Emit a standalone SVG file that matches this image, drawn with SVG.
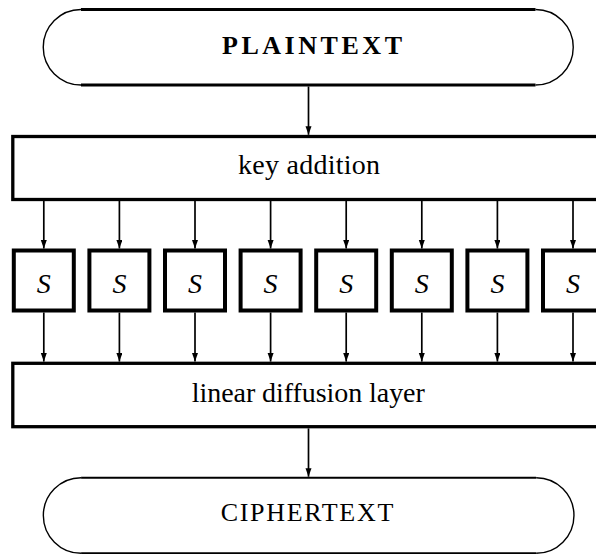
<svg xmlns="http://www.w3.org/2000/svg" width="596" height="554" viewBox="0 0 596 554">
<style>
  .bg{fill:#fff}
  .thick{fill:none;stroke:#000;stroke-width:3}
  .arc{fill:none;stroke:#000;stroke-width:1.4}
  .box{fill:#fff;stroke:#000;stroke-width:3.3}
  .sbox{fill:#fff;stroke:#000;stroke-width:4}
  .lbl{font-family:"Liberation Serif","Times New Roman",serif;font-size:28px;fill:#000;text-anchor:middle}
  .caps{font-family:"Liberation Serif","Times New Roman",serif;font-size:26px;fill:#000;text-anchor:middle}
  .s{font-family:"Liberation Serif","Times New Roman",serif;font-size:28px;font-style:italic;fill:#000;text-anchor:middle}
  .conn line{stroke:#000;stroke-width:1.7;marker-end:url(#ah)}
</style>
<defs>
  <marker id="ah" markerUnits="userSpaceOnUse" markerWidth="9" markerHeight="7" refX="8.5" refY="3" orient="auto">
    <path d="M0,0 L8.5,3 L0,6 Z" fill="#000"/>
  </marker>
</defs>
<rect class="bg" x="0" y="0" width="596" height="554"/>

<g id="plaintext">
  <path class="thick" d="M81 9.5 H535.5 M81 85 H535.5"/>
  <path class="arc" d="M81 9.5 A37.75 37.75 0 0 0 81 85 M535.5 9.5 A37.75 37.75 0 0 1 535.5 85"/>
  <text class="caps" x="312" y="54.3" font-weight="bold" textLength="180" lengthAdjust="spacing">PLAINTEXT</text>
</g>

<g id="key-addition">
  <rect class="box" x="12.8" y="136.5" width="620" height="63"/>
  <text class="lbl" x="309" y="174.3" textLength="142" lengthAdjust="spacing">key addition</text>
</g>

<g id="sboxes">
  <g id="s1"><rect class="sbox" x="13.8" y="250.5" width="60" height="60"/><text class="s" x="43.8" y="292.5">S</text></g>
  <g id="s2"><rect class="sbox" x="89.4" y="250.5" width="60" height="60"/><text class="s" x="119.4" y="292.5">S</text></g>
  <g id="s3"><rect class="sbox" x="165" y="250.5" width="60" height="60"/><text class="s" x="195" y="292.5">S</text></g>
  <g id="s4"><rect class="sbox" x="240.6" y="250.5" width="60" height="60"/><text class="s" x="270.6" y="292.5">S</text></g>
  <g id="s5"><rect class="sbox" x="316.2" y="250.5" width="60" height="60"/><text class="s" x="346.2" y="292.5">S</text></g>
  <g id="s6"><rect class="sbox" x="391.8" y="250.5" width="60" height="60"/><text class="s" x="421.8" y="292.5">S</text></g>
  <g id="s7"><rect class="sbox" x="467.4" y="250.5" width="60" height="60"/><text class="s" x="497.4" y="292.5">S</text></g>
  <g id="s8"><rect class="sbox" x="543" y="250.5" width="60" height="60"/><text class="s" x="573" y="292.5">S</text></g>
</g>

<g id="linear-diffusion">
  <rect class="box" x="12.8" y="363.3" width="620" height="63.4"/>
  <text class="lbl" x="308.3" y="402.3" textLength="233" lengthAdjust="spacing">linear diffusion layer</text>
</g>

<g id="ciphertext">
  <path class="thick" style="stroke-width:2" d="M81.1 477.7 H536.2 M81.1 553.3 H536.2"/>
  <path class="arc" d="M81.1 477.7 A37.8 37.8 0 0 0 81.1 553.3 M536.2 477.7 A37.8 37.8 0 0 1 536.2 553.3"/>
  <text class="caps" x="307" y="520.7" textLength="172.6" lengthAdjust="spacing">CIPHERTEXT</text>
</g>

<g id="connectors" class="conn">
  <line x1="308.5" y1="86.5" x2="308.5" y2="134.8"/>
  <line x1="43.8" y1="201" x2="43.8" y2="248.5"/>
  <line x1="119.4" y1="201" x2="119.4" y2="248.5"/>
  <line x1="195" y1="201" x2="195" y2="248.5"/>
  <line x1="270.6" y1="201" x2="270.6" y2="248.5"/>
  <line x1="346.2" y1="201" x2="346.2" y2="248.5"/>
  <line x1="421.8" y1="201" x2="421.8" y2="248.5"/>
  <line x1="497.4" y1="201" x2="497.4" y2="248.5"/>
  <line x1="573" y1="201" x2="573" y2="248.5"/>
  <line x1="43.8" y1="312.5" x2="43.8" y2="361.6"/>
  <line x1="119.4" y1="312.5" x2="119.4" y2="361.6"/>
  <line x1="195" y1="312.5" x2="195" y2="361.6"/>
  <line x1="270.6" y1="312.5" x2="270.6" y2="361.6"/>
  <line x1="346.2" y1="312.5" x2="346.2" y2="361.6"/>
  <line x1="421.8" y1="312.5" x2="421.8" y2="361.6"/>
  <line x1="497.4" y1="312.5" x2="497.4" y2="361.6"/>
  <line x1="573" y1="312.5" x2="573" y2="361.6"/>
  <line x1="308.5" y1="428.4" x2="308.5" y2="476.7"/>
</g>
</svg>
